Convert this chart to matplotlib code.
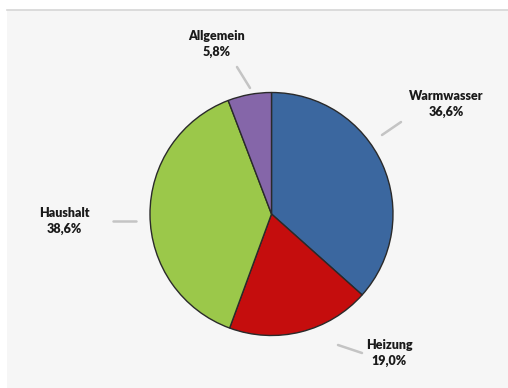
import matplotlib
matplotlib.use("Agg")
import matplotlib.pyplot as plt
from matplotlib.patches import Rectangle

# Energieverbrauch nach Bereichen
labels = ["Warmwasser", "Heizung", "Haushalt", "Allgemein"]
values = [36.6, 19.0, 38.6, 5.8]
colors = ["#3b679f", "#c50d0d", "#9bc84a", "#8566a9"]

W, H = 508, 388
cx, cy, R = 271.5, 214.0, 121.5


def px(x, y):
    # pixel position (from top left) -> data units of the pie axes
    return (x - cx) / R, (cy - y) / R


fig = plt.figure(figsize=(W / 100, H / 100), dpi=100)
fig.patch.set_facecolor("white")

ax = fig.add_axes([0, 0, 1, 1])

# light panel behind the chart
x0, y0 = px(7, H)
x1, y1 = px(W, 10)
ax.add_patch(Rectangle((x0, y0), x1 - x0, y1 - y0, facecolor="#f6f6f6",
                       edgecolor="none", zorder=0))
ax.plot([x0, x1], [y1, y1], color="#d6d6d6", lw=1.2, zorder=1)

ax.pie(values, colors=colors, startangle=90, counterclock=False, radius=1,
       wedgeprops=dict(edgecolor="#2a2a2a", linewidth=1.0), frame=True)
ax.axis("off")
ax.set_xlim(-cx / R, (W - cx) / R)
ax.set_ylim(-(H - cy) / R, cy / R)
ax.set_aspect("equal")

# label positions (pixels) and leader lines
label_pos = {
    "Warmwasser": (446, 104),
    "Heizung": (389, 353),
    "Haushalt": (64, 221),
    "Allgemein": (217, 44),
}
leaders = {
    "Warmwasser": ((382, 135), (401, 122)),
    "Heizung": ((338, 345), (362, 353)),
    "Haushalt": ((113, 221), (136, 221)),
    "Allgemein": ((237, 67), (250, 88)),
}

for lab, val in zip(labels, values):
    tx, ty = px(*label_pos[lab])
    txt = f"{lab}\n{val:.1f}%".replace(".", ",")
    ax.text(tx, ty, txt, ha="center", va="center", fontsize=9,
            fontfamily="Lato", fontweight="heavy", color="#1a1a1a",
            linespacing=1.35, zorder=5)
    (ax_, ay_), (bx_, by_) = leaders[lab]
    p0, p1 = px(ax_, ay_), px(bx_, by_)
    ax.plot([p0[0], p1[0]], [p0[1], p1[1]], color="#c4c4c4", lw=1.8,
            solid_capstyle="round", zorder=4)

fig.savefig("out.png", dpi=100, facecolor=fig.get_facecolor())
